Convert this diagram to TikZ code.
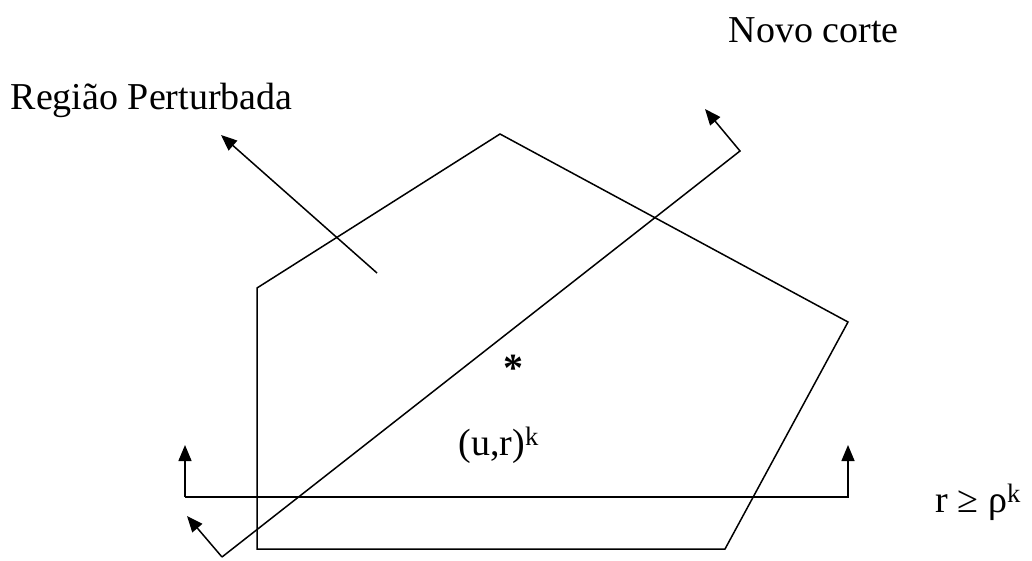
\documentclass[tikz,border=0pt]{standalone}
\usepackage{fontspec}
\setmainfont{Liberation Serif}
\usepackage{tikz}
\usetikzlibrary{arrows.meta}

\begin{document}
\begin{tikzpicture}[x=1pt,y=-1pt,
    line width=1.5pt,
    tip/.style={-{Triangle[length=16pt,width=13pt]}},
    lbl/.style={font=\fontsize{38}{42}\selectfont,inner sep=0pt,anchor=base west}]
  \useasboundingbox (0,0) rectangle (1032,561);
  % region
  \coordinate (P1) at (500,134);
  \coordinate (P2) at (848,322);
  \coordinate (P3) at (725,549);
  \coordinate (P4) at (257,549);
  \coordinate (P5) at (257,288);
  \draw (P1) -- (P2) -- (P3) -- (P4) -- (P5) -- cycle;
  % constraint r >= rho^k
  \coordinate (L0) at (185,445);
  \coordinate (L1) at (185,497);
  \coordinate (L2) at (848,497);
  \coordinate (L3) at (848,445);
  \draw[tip] (L1) -- (L0);
  \draw[tip] (L1) -- (L2) -- (L3);
  % new cut
  \coordinate (C0) at (187,516);
  \coordinate (C1) at (222,557);
  \coordinate (C2) at (740,151);
  \coordinate (C3) at (705,109);
  \draw[tip] (C1) -- (C0);
  \draw[tip] (C1) -- (C2) -- (C3);
  % perturbed region pointer
  \coordinate (R0) at (377,273);
  \coordinate (R1) at (221,135);
  \draw[tip] (R0) -- (R1);
  % labels
  \node[lbl] (novo) at (728,43) {Novo corte};
  \node[lbl] (regiao) at (10,110) {Região Perturbada};
  \node[lbl,font=\fontsize{40}{44}\bfseries,anchor=base] (estrela) at (513,381) {*};
  \node[lbl] (ponto) at (458,455) {(u,r)\textsuperscript{k}};
  \node[lbl] (restr) at (935,512) {r ≥ ρ\textsuperscript{k}};
\end{tikzpicture}
\end{document}
